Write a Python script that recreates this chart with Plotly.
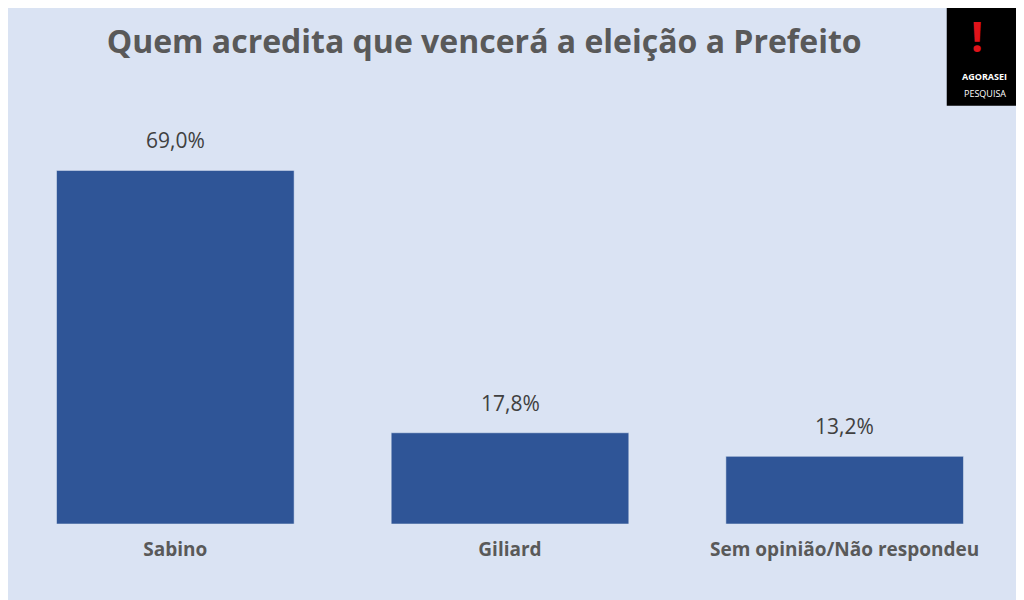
import plotly.graph_objects as go

categories = ["Sabino", "Giliard", "Sem opinião/Não respondeu"]
values = [69.0, 17.8, 13.2]
labels = ["69,0%", "17,8%", "13,2%"]

fig = go.Figure(go.Bar(
    x=categories, y=values,
    marker=dict(color="#2f5597"),
))

# value labels above the bars
for c, v, t in zip(categories, values, labels):
    fig.add_annotation(x=c, y=v, text=t, showarrow=False, yanchor="bottom", yshift=14,
                       font=dict(size=21, color="#404040", family="Open Sans"))

# logo block
fig.add_shape(type="rect", xref="paper", yref="paper", x0=0.935, x1=1.012, y0=1.02, y1=1.3,
              fillcolor="black", line_width=0, layer="below")
fig.add_annotation(xref="paper", yref="paper", x=0.973, y=1.265, yanchor="top", text="<b>!</b>",
                   showarrow=False, font=dict(size=42, color="#e0131a", family="Open Sans"))
fig.add_annotation(xref="paper", yref="paper", x=0.973, y=1.07, yanchor="bottom", xanchor="center",
                   text="<b>AGORASEI</b>", showarrow=False,
                   font=dict(size=9, color="white", family="Open Sans"))
fig.add_annotation(xref="paper", yref="paper", x=0.973, y=1.03, yanchor="bottom", xanchor="center",
                   text="PESQUISA", showarrow=False,
                   font=dict(size=9, color="white", family="Open Sans"))

fig.update_layout(
    width=1024, height=600,
    margin=dict(l=0, r=20, t=106, b=84),
    paper_bgcolor="#dae3f3", plot_bgcolor="#dae3f3",
    bargap=0.29, showlegend=False,
    title=dict(text="<b>Quem acredita que vencerá a eleição a Prefeito</b>", x=0.465, y=0.962,
               xanchor="center", font=dict(size=32, color="#595959", family="Open Sans")),
    xaxis=dict(showline=False, ticks="", tickfont=dict(size=19, color="#595959", family="Open Sans"),
               ticklabelstandoff=12),
    yaxis=dict(visible=False, range=[0, 80]),
)
fig.update_xaxes(tickprefix="<b>", ticksuffix="</b>")

fig.write_html("out.html")
